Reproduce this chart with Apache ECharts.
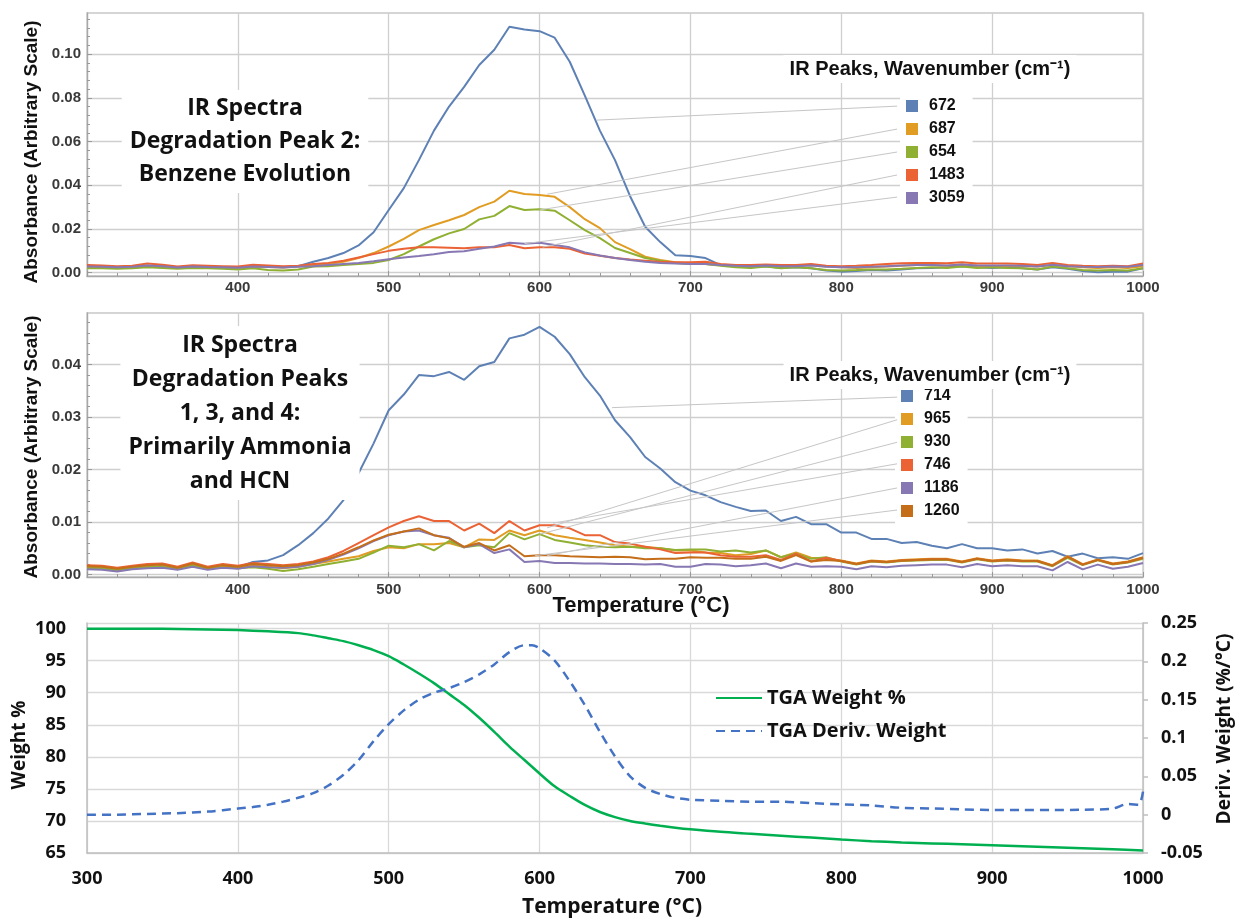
<!DOCTYPE html>
<html><head><meta charset="utf-8">
<script src="https://cdn.jsdelivr.net/npm/echarts@6/dist/echarts.min.js"></script>
<style>html,body{margin:0;padding:0;background:#fff}#c{width:1239px;height:918px}</style>
</head><body><div id="c"></div>
<script>
// ---------- DATA ----------
const temps = [300,310,320,330,340,350,360,370,380,390,400,410,420,430,440,450,460,470,480,490,500,510,520,530,540,550,560,570,580,590,600,610,620,630,640,650,660,670,680,690,700,710,720,730,740,750,760,770,780,790,800,810,820,830,840,850,860,870,880,890,900,910,920,930,940,950,960,970,980,990,1000];

// Panel 1 : Degradation peak 2 (benzene)
const p1Names = ['672','687','654','1483','3059'];
const p1_672 = [.0030,.0028,.0025,.0026,.0032,.0030,.0024,.0028,.0026,.0025,.0024,.0030,.0028,.0025,.0030,.0050,.0067,.0090,.0125,.0185,.0287,.0387,.0515,.0650,.0760,.0850,.0950,.1020,.1125,.1113,.1105,.1075,.0965,.0810,.0650,.0515,.0350,.0210,.0140,.0080,.0076,.0067,.0035,.0030,.0025,.0030,.0022,.0025,.0020,.0010,.0005,.0008,.0012,.0010,.0015,.0020,.0022,.0025,.0030,.0025,.0022,.0025,.0020,.0015,.0025,.0018,.0008,.0002,.0005,.0005,.0020];
const p1_687 = [.0025,.0024,.0022,.0025,.0030,.0028,.0022,.0027,.0025,.0024,.0022,.0028,.0026,.0024,.0028,.0035,.0040,.0050,.0067,.0090,.0120,.0155,.0195,.0218,.0240,.0264,.0300,.0325,.0375,.0360,.0355,.0347,.0300,.0245,.0204,.0140,.0108,.0073,.0058,.0048,.0042,.0040,.0035,.0030,.0032,.0035,.0030,.0032,.0035,.0028,.0025,.0022,.0025,.0028,.0032,.0035,.0035,.0032,.0038,.0032,.0030,.0032,.0030,.0028,.0035,.0030,.0025,.0022,.0025,.0022,.0030];
const p1_654 = [.0020,.0020,.0018,.0020,.0025,.0022,.0018,.0022,.0020,.0018,.0015,.0020,.0012,.0010,.0015,.0028,.0030,.0035,.0040,.0045,.0058,.0085,.0120,.0153,.0180,.0200,.0244,.0260,.0305,.0287,.0290,.0284,.0240,.0195,.0158,.0113,.0090,.0067,.0055,.0045,.0040,.0040,.0032,.0025,.0022,.0028,.0020,.0025,.0020,.0012,.0010,.0012,.0015,.0015,.0018,.0022,.0025,.0022,.0028,.0022,.0025,.0022,.0020,.0015,.0028,.0020,.0012,.0010,.0012,.0010,.0020];
const p1_1483 = [.0035,.0033,.0030,.0032,.0042,.0036,.0028,.0034,.0032,.0030,.0028,.0036,.0033,.0030,.0032,.0040,.0045,.0055,.0070,.0085,.0100,.0110,.0117,.0116,.0114,.0112,.0116,.0116,.0127,.0112,.0117,.0116,.0110,.0088,.0078,.0067,.0060,.0055,.0050,.0048,.0048,.0050,.0040,.0035,.0035,.0038,.0035,.0035,.0040,.0032,.0030,.0032,.0035,.0040,.0043,.0045,.0045,.0043,.0048,.0042,.0042,.0042,.0040,.0035,.0045,.0035,.0032,.0030,.0032,.0030,.0042];
const p1_3059 = [.0028,.0027,.0025,.0027,.0033,.0030,.0024,.0028,.0026,.0025,.0023,.0028,.0026,.0024,.0027,.0030,.0035,.0040,.0045,.0052,.0062,.0070,.0076,.0085,.0095,.0098,.0110,.0120,.0137,.0133,.0137,.0127,.0116,.0093,.0079,.0067,.0058,.0050,.0045,.0042,.0040,.0040,.0035,.0032,.0030,.0033,.0030,.0030,.0033,.0027,.0025,.0025,.0027,.0030,.0033,.0035,.0035,.0033,.0038,.0033,.0033,.0033,.0032,.0028,.0036,.0030,.0027,.0026,.0028,.0027,.0035];
const p1Values = [p1_672, p1_687, p1_654, p1_1483, p1_3059];
const p1YTicks = [0, 0.02, 0.04, 0.06, 0.08, 0.10];
const p1YMinor = [0.004,0.008,0.012,0.016,0.024,0.028,0.032,0.036,0.044,0.048,0.052,0.056,0.064,0.068,0.072,0.076,0.084,0.088,0.092,0.096,0.104,0.108,0.112,0.116];
// annotation arrows (data units): from curve -> legend entry
const p1ArrowFrom = [[638,0.0698],[605,0.0359],[600,0.0287],[602,0.0117],[590,0.0133]];
const p1ArrowTo   = [[837,0.0762],[837,0.0657],[837,0.0552],[837,0.0447],[837,0.0346]];

// Panel 2 : Degradation peaks 1,3,4 (ammonia, HCN)
const p2Names = ['714','965','930','746','1186','1260'];
const p2_714 = [.0012,.0011,.0008,.0012,.0014,.0016,.0011,.0018,.0011,.0016,.0014,.0024,.0027,.0037,.0056,.0079,.0107,.0142,.0193,.0250,.0313,.0343,.0380,.0378,.0386,.0371,.0397,.0405,.0450,.0457,.0472,.0453,.0420,.0376,.0341,.0294,.0262,.0224,.0202,.0176,.0160,.0151,.0138,.0129,.0121,.0122,.0102,.0110,.0096,.0096,.0080,.0080,.0068,.0068,.0060,.0062,.0055,.0050,.0058,.0050,.0050,.0046,.0048,.0040,.0045,.0034,.0040,.0031,.0033,.0030,.0041];
const p2_965 = [.0013,.0012,.0009,.0013,.0015,.0016,.0011,.0018,.0011,.0015,.0013,.0017,.0015,.0012,.0015,.0020,.0025,.0030,.0035,.0045,.0052,.0050,.0058,.0058,.0060,.0052,.0067,.0066,.0084,.0075,.0084,.0075,.0070,.0066,.0061,.0056,.0053,.0053,.0050,.0046,.0046,.0042,.0041,.0037,.0039,.0046,.0033,.0042,.0032,.0030,.0027,.0021,.0027,.0025,.0028,.0029,.0030,.0030,.0025,.0031,.0027,.0029,.0027,.0027,.0018,.0035,.0020,.0029,.0021,.0025,.0033];
const p2_930 = [.0013,.0012,.0009,.0012,.0014,.0015,.0011,.0017,.0011,.0014,.0012,.0014,.0011,.0007,.0010,.0015,.0020,.0025,.0030,.0042,.0055,.0052,.0058,.0046,.0064,.0052,.0056,.0052,.0079,.0067,.0077,.0066,.0061,.0056,.0053,.0052,.0053,.0050,.0050,.0047,.0048,.0048,.0044,.0046,.0042,.0046,.0033,.0040,.0030,.0033,.0025,.0019,.0025,.0023,.0026,.0027,.0028,.0028,.0023,.0029,.0025,.0027,.0025,.0025,.0016,.0032,.0018,.0027,.0019,.0023,.0030];
const p2_746 = [.0018,.0017,.0013,.0017,.0020,.0021,.0015,.0023,.0015,.0020,.0017,.0022,.0020,.0018,.0020,.0025,.0033,.0045,.0060,.0075,.0090,.0102,.0111,.0102,.0102,.0084,.0097,.0079,.0102,.0084,.0094,.0094,.0088,.0075,.0075,.0062,.0059,.0053,.0048,.0041,.0042,.0042,.0037,.0034,.0034,.0037,.0028,.0040,.0025,.0032,.0026,.0020,.0026,.0024,.0027,.0028,.0029,.0029,.0024,.0030,.0026,.0028,.0026,.0026,.0017,.0034,.0019,.0028,.0020,.0024,.0032];
const p2_1186 = [.0010,.0009,.0006,.0010,.0012,.0013,.0009,.0015,.0009,.0013,.0011,.0016,.0014,.0013,.0015,.0020,.0028,.0038,.0050,.0064,.0075,.0082,.0084,.0075,.0070,.0052,.0058,.0041,.0048,.0024,.0026,.0022,.0022,.0021,.0021,.0020,.0020,.0019,.0020,.0015,.0015,.0020,.0019,.0016,.0018,.0021,.0012,.0021,.0015,.0016,.0015,.0010,.0016,.0014,.0017,.0018,.0019,.0019,.0014,.0020,.0016,.0018,.0016,.0016,.0008,.0024,.0010,.0019,.0011,.0015,.0022];
const p2_1260 = [.0016,.0015,.0011,.0015,.0018,.0019,.0013,.0021,.0013,.0018,.0015,.0020,.0018,.0016,.0018,.0023,.0030,.0040,.0052,.0065,.0076,.0082,.0088,.0075,.0069,.0053,.0060,.0046,.0056,.0035,.0037,.0037,.0035,.0034,.0033,.0034,.0033,.0029,.0030,.0030,.0033,.0032,.0032,.0030,.0030,.0034,.0026,.0037,.0025,.0028,.0026,.0020,.0026,.0024,.0027,.0028,.0029,.0029,.0024,.0030,.0026,.0028,.0026,.0026,.0017,.0034,.0019,.0028,.0020,.0024,.0032];
const p2Values = [p2_714, p2_965, p2_930, p2_746, p2_1186, p2_1260];
const p2YTicks = [0, 0.01, 0.02, 0.03, 0.04];
const p2YMinor = [0.002,0.004,0.006,0.008,0.012,0.014,0.016,0.018,0.022,0.024,0.026,0.028,0.032,0.034,0.036,0.038,0.042,0.044,0.046,0.048];
const p2ArrowFrom = [[648,0.0318],[605,0.0089],[600,0.0077],[609,0.0098],[605,0.0036],[597,0.0036]];
const p2ArrowTo   = [[837,0.0338],[837,0.0295],[837,0.0252],[837,0.0211],[837,0.0165],[837,0.0123]];

// Panel 3 : TGA
const weightT = [300,320,340,360,380,400,420,440,450,460,470,480,490,500,510,520,530,540,550,560,570,580,590,600,610,620,630,640,650,660,670,680,690,700,720,740,760,780,800,820,840,860,880,900,920,940,960,980,1000];
const weight  = [100.0,100.0,99.98,99.95,99.88,99.77,99.58,99.3,98.95,98.5,98.05,97.4,96.65,95.7,94.4,93.0,91.5,89.8,88.1,86.1,83.9,81.6,79.5,77.4,75.4,73.9,72.5,71.4,70.6,70.0,69.6,69.25,68.95,68.7,68.3,68.0,67.7,67.4,67.1,66.85,66.65,66.5,66.35,66.2,66.05,65.9,65.75,65.6,65.4];
const derivT = [300,320,340,360,380,400,410,420,430,440,450,460,470,480,490,500,510,520,530,540,550,560,570,580,590,595,600,610,620,630,640,650,660,670,680,690,700,720,740,760,780,800,820,840,860,880,900,920,940,960,980,990,997,1000];
const deriv  = [0.000,0.000,0.001,0.002,0.004,0.008,0.010,0.013,0.017,0.022,0.028,0.038,0.052,0.071,0.096,0.118,0.136,0.150,0.159,0.165,0.173,0.183,0.196,0.212,0.221,0.221,0.217,0.201,0.174,0.143,0.108,0.076,0.050,0.035,0.027,0.022,0.0195,0.018,0.017,0.017,0.015,0.0135,0.012,0.009,0.008,0.007,0.006,0.006,0.006,0.0065,0.008,0.014,0.013,0.030];

// ---------- STYLE ----------
const FA = "'Liberation Sans', Arial, sans-serif";
const FC = "'Open Sans', Lato, sans-serif";
const irColors = ['#5E81B5','#E19C24','#8FB032','#EB6235','#8778B3','#C56E1A'];
const GRIDC = '#cfcfcf';

function pairs(xs, ys) { return xs.map((x, i) => [x, ys[i]]); }

const chart = echarts.init(document.getElementById('c'), null, {renderer: 'canvas'});

function irXAxis(gi) {
  return {
    type: 'value', gridIndex: gi, min: 300, max: 1000, interval: 100,
    axisLine: {show: true, onZero: false, lineStyle: {color: '#a8a8a8', width: 1.3}},
    axisTick: {show: true, inside: true, length: 5, lineStyle: {color: '#999'}},
    minorTick: {show: true, splitNumber: 5, length: 3, lineStyle: {color: '#999'}},
    splitLine: {show: true, lineStyle: {color: GRIDC, width: 1.3}},
    axisLabel: {showMinLabel: false, margin: gi === 0 ? 4 : 5, formatter: v => String(v),
      fontFamily: FA, fontWeight: 'bold', fontSize: 15, color: '#3a3a3a'}
  };
}
function irYAxis(gi, min, max, ticks) {
  return {
    type: 'value', gridIndex: gi, min: min, max: max, position: 'left',
    axisLine: {show: true, onZero: false, lineStyle: {color: '#a8a8a8', width: 1.3}},
    axisTick: {show: true, inside: true, length: 5, lineStyle: {color: '#999'}, customValues: ticks},
    splitLine: {show: true, lineStyle: {color: GRIDC, width: 1.3}},
    axisLabel: {customValues: ticks, formatter: v => v.toFixed(2), margin: 6,
      fontFamily: FA, fontWeight: 'bold', fontSize: 15, color: '#3a3a3a'}
  };
}
function irYMinor(gi, min, max, ticks) {
  return {
    type: 'value', gridIndex: gi, min: min, max: max, position: 'left',
    axisLine: {show: false, onZero: false}, splitLine: {show: false}, axisLabel: {show: false},
    axisTick: {show: true, inside: true, length: 3, lineStyle: {color: '#999'}, customValues: ticks}
  };
}

const series = [];
function addIR(names, values, xi, yi, from, to) {
  names.forEach((n, i) => {
    series.push({
      name: n, type: 'line', xAxisIndex: xi, yAxisIndex: yi,
      data: pairs(temps, values[i]), showSymbol: false, symbol: 'none',
      lineStyle: {width: 2, color: irColors[i]}, itemStyle: {color: irColors[i]},
      z: 3,
      markLine: {
        silent: true, symbol: ['none', 'arrow'], symbolSize: [0, 7], precision: 6,
        lineStyle: {color: '#c6c6c6', width: 1, type: 'solid'}, label: {show: false},
        emphasis: {disabled: true},
        data: [[{coord: from[i]}, {coord: to[i]}]]
      }
    });
  });
}
addIR(p1Names, p1Values, 0, 0, p1ArrowFrom, p1ArrowTo);
addIR(p2Names, p2Values, 1, 2, p2ArrowFrom, p2ArrowTo);

series.push({
  name: 'TGA Weight %', type: 'line', xAxisIndex: 2, yAxisIndex: 4,
  data: pairs(weightT, weight), showSymbol: false, symbol: 'none', smooth: 0.3,
  lineStyle: {width: 2.5, color: '#00B050'}, itemStyle: {color: '#00B050'}
});
series.push({
  name: 'TGA Deriv. Weight', type: 'line', xAxisIndex: 2, yAxisIndex: 5,
  data: pairs(derivT, deriv), showSymbol: false, symbol: 'none', smooth: 0.3,
  lineStyle: {width: 2.5, color: '#4472C4', type: [9, 6]}, itemStyle: {color: '#4472C4'}
});

const legendText = {fontFamily: FA, fontWeight: 'bold', fontSize: 16, color: '#111', lineHeight: 18, padding: [0, 0, 0, 6]};

const option = {
  animation: false,
  backgroundColor: '#fff',
  grid: [
    {left: 87, right: 96, top: 13, height: 263, show: true, borderColor: '#c8c8c8', borderWidth: 1.3},
    {left: 87, right: 96, top: 313, height: 264, show: true, borderColor: '#c8c8c8', borderWidth: 1.3},
    {left: 87, right: 96, top: 623, height: 230}
  ],
  xAxis: [
    irXAxis(0),
    irXAxis(1),
    {
      type: 'value', gridIndex: 2, min: 300, max: 1000, interval: 100,
      axisLine: {show: true, onZero: false, lineStyle: {color: '#bfbfbf', width: 1.5}},
      axisTick: {show: false},
      splitLine: {show: true, lineStyle: {color: '#d9d9d9', width: 1.3}},
      axisLabel: {margin: 17, formatter: v => String(v), fontFamily: FC, fontWeight: 'bold', fontSize: 18, color: '#111'}
    }
  ],
  yAxis: [
    irYAxis(0, -0.0015, 0.1188, p1YTicks),
    irYMinor(0, -0.0015, 0.1188, p1YMinor),
    irYAxis(1, -0.00046, 0.04983, p2YTicks),
    irYMinor(1, -0.00046, 0.04983, p2YMinor),
    {
      type: 'value', gridIndex: 2, min: 65, max: 100.88, interval: 5, position: 'left',
      axisLine: {show: true, onZero: false, lineStyle: {color: '#bfbfbf', width: 1.5}},
      axisTick: {show: false},
      splitLine: {show: true, lineStyle: {color: '#d9d9d9', width: 1.3}},
      axisLabel: {showMaxLabel: false, margin: 21, fontFamily: FC, fontWeight: 'bold', fontSize: 18, color: '#111'}
    },
    {
      type: 'value', gridIndex: 2, min: -0.05, max: 0.25, interval: 0.05, position: 'right',
      axisLine: {show: true, onZero: false, lineStyle: {color: '#bfbfbf', width: 1.5}},
      axisTick: {show: true, inside: false, length: 5, lineStyle: {color: '#bfbfbf', width: 1.5}},
      splitLine: {show: false},
      axisLabel: {margin: 18, fontFamily: FC, fontWeight: 'bold', fontSize: 18, color: '#111'}
    }
  ],
  legend: [
    {data: p1Names, orient: 'vertical', left: 900, top: 93, icon: 'rect', itemWidth: 12, itemHeight: 12,
     itemGap: 5, backgroundColor: '#fff', padding: [4, 8, 4, 6], textStyle: legendText, selectedMode: false},
    {data: p2Names, orient: 'vertical', left: 895, top: 383, icon: 'rect', itemWidth: 12, itemHeight: 12,
     itemGap: 5, backgroundColor: '#fff', padding: [4, 8, 4, 6], textStyle: legendText, selectedMode: false},
    {data: ['TGA Weight %', 'TGA Deriv. Weight'], orient: 'vertical', left: 710, top: 681,
     itemWidth: 46, itemHeight: 14, itemGap: 9, selectedMode: false,
     itemStyle: {color: 'rgba(0,0,0,0)', borderColor: 'rgba(0,0,0,0)', borderWidth: 0, opacity: 0},
     textStyle: {fontFamily: FC, fontWeight: 'bold', fontSize: 20, color: '#111', lineHeight: 24}}
  ],
  graphic: [
    {type: 'text', x: 245, y: 90, z: 50, style: {text: 'IR Spectra\nDegradation Peak 2:\nBenzene Evolution',
      align: 'center', verticalAlign: 'top', fontFamily: FC, fontWeight: 'bold', fontSize: 23, lineHeight: 33,
      fill: '#111', backgroundColor: '#fff', padding: [2, 8, 2, 8]}},
    {type: 'text', x: 240, y: 326, z: 50, style: {text: 'IR Spectra\nDegradation Peaks\n1, 3, and 4:\nPrimarily Ammonia\nand HCN',
      align: 'center', verticalAlign: 'top', fontFamily: FC, fontWeight: 'bold', fontSize: 23, lineHeight: 34,
      fill: '#111', backgroundColor: '#fff', padding: [2, 8, 2, 8]}},
    {type: 'text', x: 930, y: 69, z: 50, style: {text: 'IR Peaks, Wavenumber (cm\u207B\u00B9)',
      align: 'center', verticalAlign: 'middle', fontFamily: FA, fontWeight: 'bold', fontSize: 20,
      fill: '#111', backgroundColor: '#fff', padding: [4, 6, 4, 6]}},
    {type: 'text', x: 930, y: 375, z: 50, style: {text: 'IR Peaks, Wavenumber (cm\u207B\u00B9)',
      align: 'center', verticalAlign: 'middle', fontFamily: FA, fontWeight: 'bold', fontSize: 20,
      fill: '#111', backgroundColor: '#fff', padding: [4, 6, 4, 6]}},
    {type: 'text', x: 32, y: 152, rotation: Math.PI / 2, style: {text: 'Absorbance (Arbitrary Scale)',
      align: 'center', verticalAlign: 'middle', fontFamily: FA, fontWeight: 'bold', fontSize: 19, fill: '#111'}},
    {type: 'text', x: 32, y: 447, rotation: Math.PI / 2, style: {text: 'Absorbance (Arbitrary Scale)',
      align: 'center', verticalAlign: 'middle', fontFamily: FA, fontWeight: 'bold', fontSize: 19, fill: '#111'}},
    {type: 'text', x: 641, y: 606, z: 50, style: {text: 'Temperature (°C)',
      align: 'center', verticalAlign: 'middle', fontFamily: FA, fontWeight: 'bold', fontSize: 22, fill: '#111'}},
    {type: 'text', x: 20, y: 745, rotation: Math.PI / 2, style: {text: 'Weight %',
      align: 'center', verticalAlign: 'middle', fontFamily: FC, fontWeight: 'bold', fontSize: 19, fill: '#111'}},
    {type: 'text', x: 1225, y: 729, rotation: Math.PI / 2, style: {text: 'Deriv. Weight (%/°C)',
      align: 'center', verticalAlign: 'middle', fontFamily: FC, fontWeight: 'bold', fontSize: 19, fill: '#111'}},
    {type: 'text', x: 612, y: 907, style: {text: 'Temperature (°C)',
      align: 'center', verticalAlign: 'middle', fontFamily: FC, fontWeight: 'bold', fontSize: 21, fill: '#111'}}
  ],
  series: series
};
chart.setOption(option);
</script>
</body></html>
